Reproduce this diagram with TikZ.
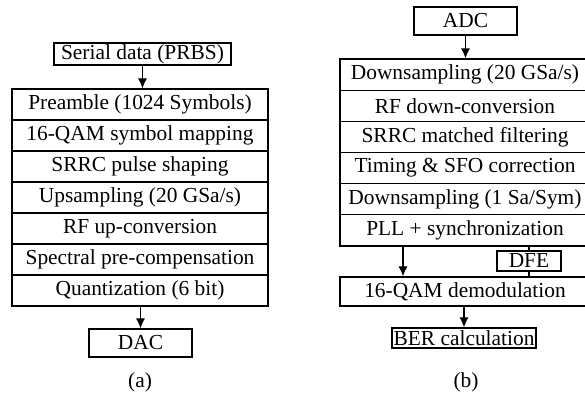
\documentclass[tikz,border=0pt]{standalone}
\usepackage{fontspec}
\setmainfont{Liberation Serif}
\usetikzlibrary{arrows.meta}
\begin{document}
\begin{tikzpicture}[x=0.5pt,y=-0.5pt,
  every node/.style={font=\fontsize{10.7}{12}\selectfont},
  blk/.style={draw,line width=0.6pt,rectangle,inner sep=0pt,minimum height=#1},
  blk/.default=15.5pt,
  lrow/.style={blk,minimum width=128pt},
  rrow/.style={blk=15.58pt,minimum width=125pt},
  arr/.style={line width=0.6pt,-{Latex[length=5pt,width=4.5pt]}},
  ln/.style={line width=0.6pt}]
\useasboundingbox (0,0) rectangle (585,394);
% left (a)
\node[blk=11pt,minimum width=88.5pt] (serial) at (142.5,54) {Serial data (PRBS)};
\node[lrow] (a1) at (140,104.5) {Preamble (1024 Symbols)};
\node[lrow] (a2) at (140,135.5) {16-QAM symbol mapping};
\node[lrow] (a3) at (140,166.5) {SRRC pulse shaping};
\node[lrow] (a4) at (140,197.5) {Upsampling (20 GSa/s)};
\node[lrow] (a5) at (140,228.5) {RF up-conversion};
\node[lrow] (a6) at (140,259.5) {Spectral pre-compensation};
\node[lrow] (a7) at (140,290.5) {Quantization (6 bit)};
\node[blk=14pt,minimum width=51.5pt] (dac) at (140.5,343) {DAC};
\node (la) at (140,382) {(a)};
\draw[arr] (serial.south) -- (serial.south |- a1.north);
\draw[arr] (dac.north |- a7.south) -- (dac.north);
% right (b)
\node[blk=14pt,minimum width=51.5pt] (adc) at (465.5,21) {ADC};
\node[rrow] (b1) at (465,74.6) {Downsampling (20 GSa/s)};
\node[rrow] (b2) at (465,105.75) {RF down-conversion};
\node[rrow] (b3) at (465,136.9) {SRRC matched filtering};
\node[rrow] (b4) at (465,168.1) {Timing \& SFO correction};
\node[rrow] (b5) at (465,199.25) {Downsampling (1 Sa/Sym)};
\node[rrow] (b6) at (465,230.4) {PLL + synchronization};
\node[blk=10pt,minimum width=32pt] (dfe) at (529,261) {DFE};
\node[blk=14.5pt,minimum width=125pt] (demod) at (465,291.5) {16-QAM demodulation};
\node[blk=10pt,minimum width=72pt] (ber) at (464,338) {BER calculation};
\node (lb) at (466,382) {(b)};
\coordinate (pllx) at (403,0);
\draw[arr] (adc.south) -- (adc.south |- b1.north);
\draw[arr] (b6.south -| pllx) -- (demod.north -| pllx);
\draw[ln] (b6.south -| dfe.north) -- (dfe.north);
\draw[ln] (dfe.south) -- (demod.north -| dfe.south);
\draw[arr] (demod.south -| ber.north) -- (ber.north);
\end{tikzpicture}
\end{document}
